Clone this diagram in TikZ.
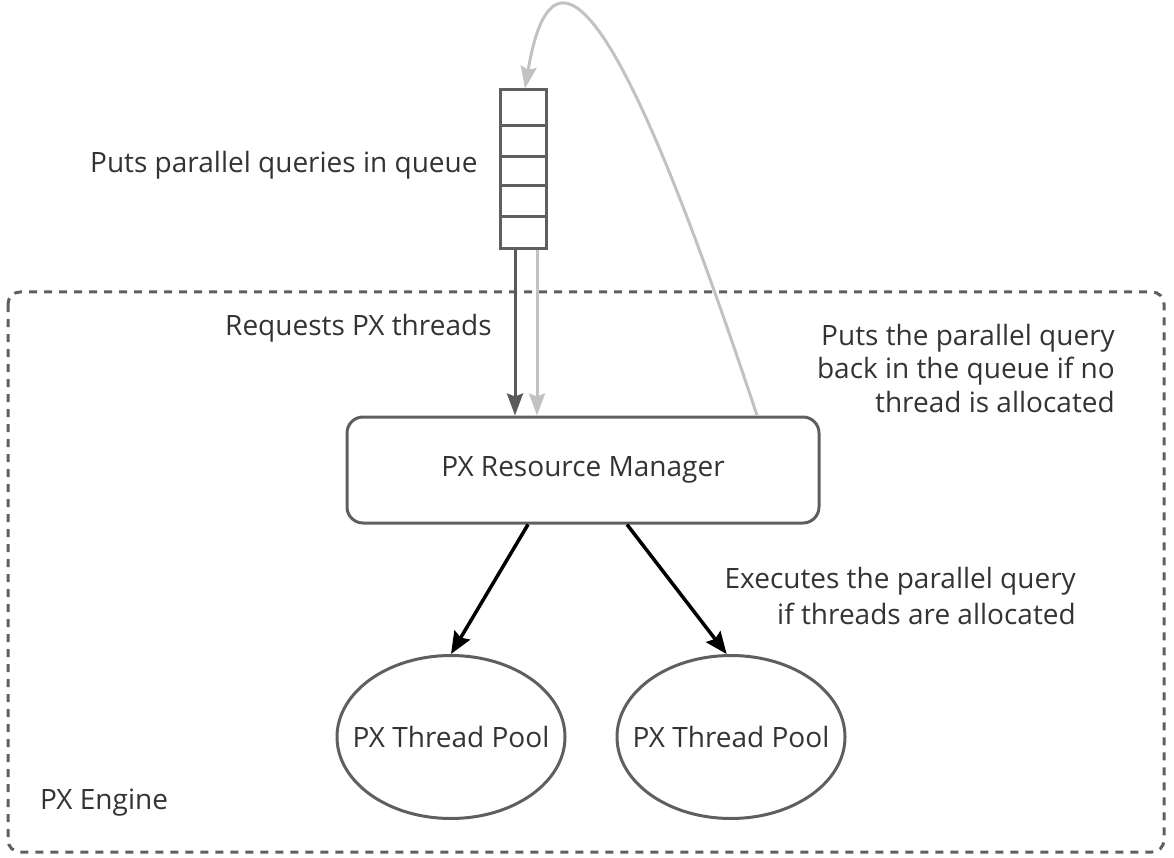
\documentclass[tikz,border=0pt]{standalone}
\usepackage{fontspec}
\setmainfont{Open Sans}
\usetikzlibrary{arrows.meta,shapes.geometric}
\definecolor{frame}{HTML}{5F5F5F}
\definecolor{lightarr}{HTML}{C2C2C2}
\definecolor{darkarr}{HTML}{5A5A5A}
\definecolor{txt}{HTML}{333333}
\tikzset{
  lbl/.style={inner sep=0pt, text=txt, font=\fontsize{28}{34}\selectfont},
  boxstyle/.style={draw=frame, line width=3pt},
  pool/.style={boxstyle, ellipse, minimum width=228pt, minimum height=163pt, inner sep=0pt, text=txt, font=\fontsize{28}{34}\selectfont},
  darrow/.style={draw=darkarr, line width=3pt, -{Stealth[length=22pt,width=16pt,inset=3pt]}},
  larrow/.style={draw=lightarr, line width=3pt, -{Stealth[length=22pt,width=16pt,inset=3pt]}},
  barrow/.style={draw=black, line width=3.5pt, -{Stealth[length=22pt,width=18pt,inset=3pt]}},
}
\begin{document}
\begin{tikzpicture}[x=1pt,y=-1pt]
\useasboundingbox (0,0) rectangle (1174,858);
% frame
\draw[frame, line width=3pt, dash pattern=on 8pt off 7pt, rounded corners=12pt] (8,292) rectangle (1164,852);
% queue
\node[boxstyle, rectangle, minimum width=46pt, minimum height=159pt, inner sep=0pt] (queue) at (523,169.5) {};
\foreach \yy in {126,157,186,217}{
  \draw[frame, line width=3pt] (queue.west |- 0,\yy) -- (queue.east |- 0,\yy);
}
% resource manager
\node[boxstyle, rectangle, rounded corners=16pt, minimum width=472pt, minimum height=106pt, inner sep=0pt, text=txt, font=\fontsize{28}{34}\selectfont] (rm) at (583,470) {PX Resource Manager};
% thread pools
\node[pool] (tp1) at (451,737) {\makebox[0pt]{PX Thread Pool}};
\node[pool] (tp2) at (731,737) {\makebox[0pt]{PX Thread Pool}};
% arrows queue -> rm
\draw[darrow] ([xshift=-8pt]queue.south) -- ([xshift=-8pt]queue.south |- rm.north);
\draw[larrow] ([xshift=14pt]queue.south) -- ([xshift=14pt]queue.south |- rm.north);
% curved back arrow
\draw[larrow] ([xshift=174pt]rm.north) .. controls (658,117) and (560,-118) .. ([xshift=2pt]queue.north);
% rm -> pools
\draw[barrow] ([xshift=-55pt]rm.south) -- (tp1.north);
\draw[barrow] ([xshift=44pt]rm.south) -- (tp2.93);
% labels
\node[lbl, anchor=west] (l1) at (90,165) {Puts parallel queries in queue};
\node[lbl, anchor=west] (l2) at (225,328) {Requests PX threads};
\node[lbl, anchor=east, align=right, font=\fontsize{28}{33.5}\selectfont] (l3) at (1115,368) {Puts the parallel query\\back in the queue if no\\thread is allocated};
\node[lbl, anchor=east, align=right, font=\fontsize{28}{36}\selectfont] (l4) at (1076,596) {Executes the parallel query\\if threads are allocated};
\node[lbl, anchor=west] (l5) at (40,803) {PX Engine};
\end{tikzpicture}
\end{document}
